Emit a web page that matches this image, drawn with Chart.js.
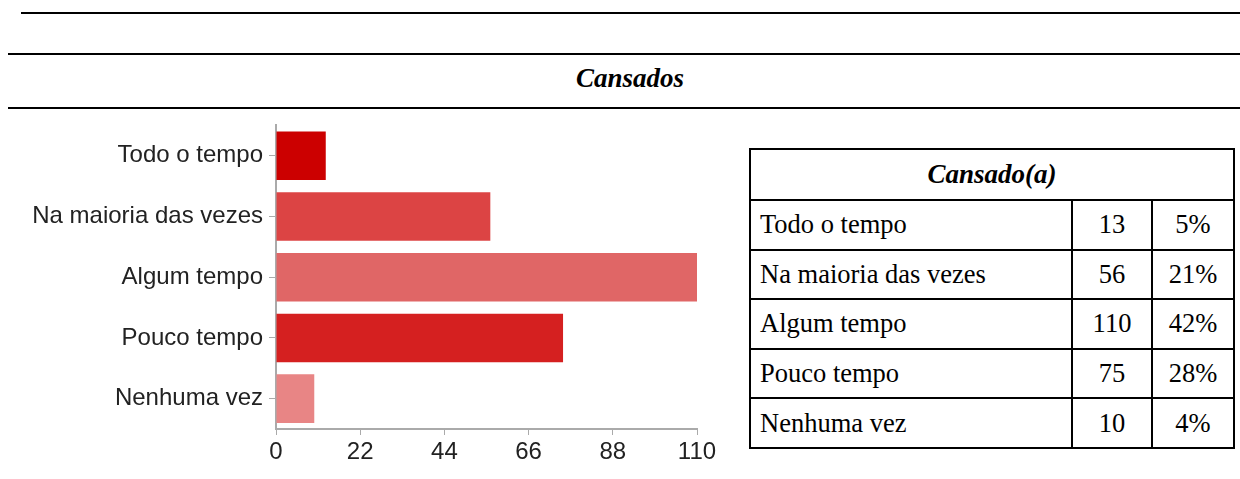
<!DOCTYPE html>
<html>
<head>
<meta charset="utf-8">
<script src="https://cdn.jsdelivr.net/npm/chart.js@4"></script>
<style>
  body { margin: 0; width: 1240px; height: 479px; background: #fff; position: relative; overflow: hidden; }
  .rule { position: absolute; right: 0; height: 2px; background: #000; }
  .title { position: absolute; left: 0; width: 1260px; top: 63px; text-align: center;
    font: italic bold 27px "Liberation Serif", serif; }
  .chart-box { position: absolute; left: 0; top: 105px; width: 720px; height: 370px; }
  table { position: absolute; left: 749px; top: 148px; border-collapse: collapse;
    font: 26.5px "Liberation Serif", serif; }
  td, th { border: 2px solid #000; height: 47.6px; padding: 0 9px; }
  th { font-style: italic; font-weight: bold; font-size: 27px; height: 49px; }
  td.num { text-align: center; padding: 0; }
</style>
</head>
<body>
<div class="rule" style="top:12px;left:21px"></div>
<div class="rule" style="top:53px;left:8px"></div>
<div class="rule" style="top:107px;left:8px"></div>
<div class="title">Cansados</div>

<div class="chart-box"><canvas id="chart1"></canvas></div>

<table id="tbl">
  <tr><th colspan="3">Cansado(a)</th></tr>
</table>

<script>
const categories = ["Todo o tempo", "Na maioria das vezes", "Algum tempo", "Pouco tempo", "Nenhuma vez"];
const counts = [13, 56, 110, 75, 10];
const percents = ["5%", "21%", "42%", "28%", "4%"];
const xTicks = [0, 22, 44, 66, 88, 110];
const barColors = ["#cc0000", "#dc4444", "#e06666", "#d52020", "#e88585"];

// table beside the chart
const tbl = document.getElementById("tbl");
categories.forEach(function (cat, i) {
  const tr = document.createElement("tr");
  tr.innerHTML =
    '<td style="width:302px">' + cat + '</td>' +
    '<td class="num" style="width:78px">' + counts[i] + '</td>' +
    '<td class="num" style="width:80px">' + percents[i] + '</td>';
  tbl.appendChild(tr);
});

const ctx = document.getElementById("chart1").getContext("2d");
new Chart(ctx, {
  type: "bar",
  data: {
    labels: categories,
    datasets: [
      {
        label: "Cansado(a)",
        data: counts,
        backgroundColor: barColors,
        barPercentage: 0.8,
        categoryPercentage: 1,
      },
    ],
  },
  options: {
    indexAxis: "y",
    responsive: true,
    maintainAspectRatio: false,
    animation: false,
    layout: { padding: { top: 0, right: 23, left: 0, bottom: 0 } },
    plugins: { legend: { display: false }, tooltip: { enabled: false } },
    scales: {
      x: {
        min: 0,
        max: 110,
        afterBuildTicks: function (scale) {
          scale.ticks = xTicks.map((v) => ({ value: v }));
        },
        afterFit: function (scale) {
          scale.height = 46;
        },
        grid: { drawOnChartArea: false, drawTicks: true, tickLength: 6, color: "#aaa" },
        border: { display: true, color: "#aaa", width: 2 },
        ticks: { color: "#222", padding: 3, font: { family: "Liberation Sans", size: 24 }, maxRotation: 0 },
      },
      y: {
        afterFit: function (scale) {
          scale.width = 276;
        },
        grid: { drawOnChartArea: false, drawTicks: true, tickLength: 7, color: "#aaa", offset: false },
        border: { display: true, color: "#aaa", width: 2 },
        ticks: { color: "#222", padding: 6, font: { family: "Liberation Sans", size: 24 } },
      },
    },
  },
});
</script>
</body>
</html>
